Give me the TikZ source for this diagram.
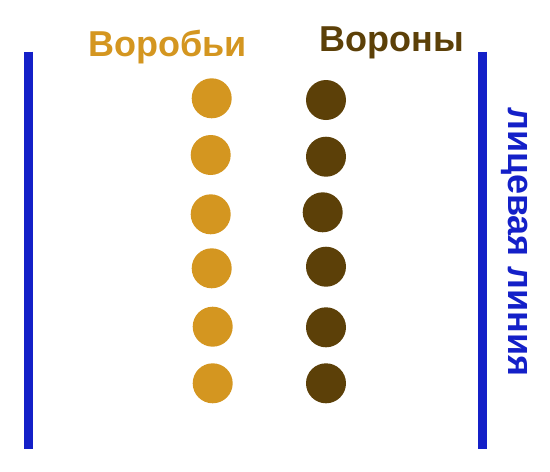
\documentclass[tikz,border=0pt]{standalone}
\usepackage{fontspec}
\setmainfont{Liberation Sans}
\definecolor{sparrow}{RGB}{212,150,32}
\definecolor{crow}{RGB}{92,64,8}
\definecolor{lineblue}{RGB}{20,32,200}
\tikzset{
  sdot/.style={circle, fill=sparrow, minimum size=40pt, inner sep=0pt},
  cdot/.style={circle, fill=crow, minimum size=40pt, inner sep=0pt},
  bar/.style={draw=lineblue, line width=9pt},
  title/.style={font=\fontsize{36}{42}\selectfont\bfseries, inner sep=0pt, anchor=base}
}
\begin{document}
\begin{tikzpicture}[x=1pt,y=-1pt]
\useasboundingbox (0,0) rectangle (550,472);
% face lines
\coordinate (l1) at (28.8,51.7);
\coordinate (l2) at (28.8,449);
\coordinate (r1) at (482.2,51.7);
\coordinate (r2) at (482.2,449);
\draw[bar] (l1) -- (l2);
\draw[bar] (r1) -- (r2);
% titles
\node[title, text=sparrow] (ts) at (167.5,56.7) {Воробьи};
\node[title, text=crow] (tc) at (392.2,51.5) {Вороны};
\node[title, text=lineblue, rotate=-90] (tl) at (508.5,242) {лицевая линия};
% sparrows
\node[sdot] (s1) at (211.7,98.3) {};
\node[sdot] (s2) at (210.7,155) {};
\node[sdot] (s3) at (210.7,214.3) {};
\node[sdot] (s4) at (211.7,268.3) {};
\node[sdot] (s5) at (212.7,326.7) {};
\node[sdot] (s6) at (212.7,383.3) {};
% crows
\node[cdot] (c1) at (326,100) {};
\node[cdot] (c2) at (326,156.7) {};
\node[cdot] (c3) at (322.7,212.3) {};
\node[cdot] (c4) at (326,266.7) {};
\node[cdot] (c5) at (326,327.3) {};
\node[cdot] (c6) at (326,383.3) {};
\end{tikzpicture}
\end{document}
